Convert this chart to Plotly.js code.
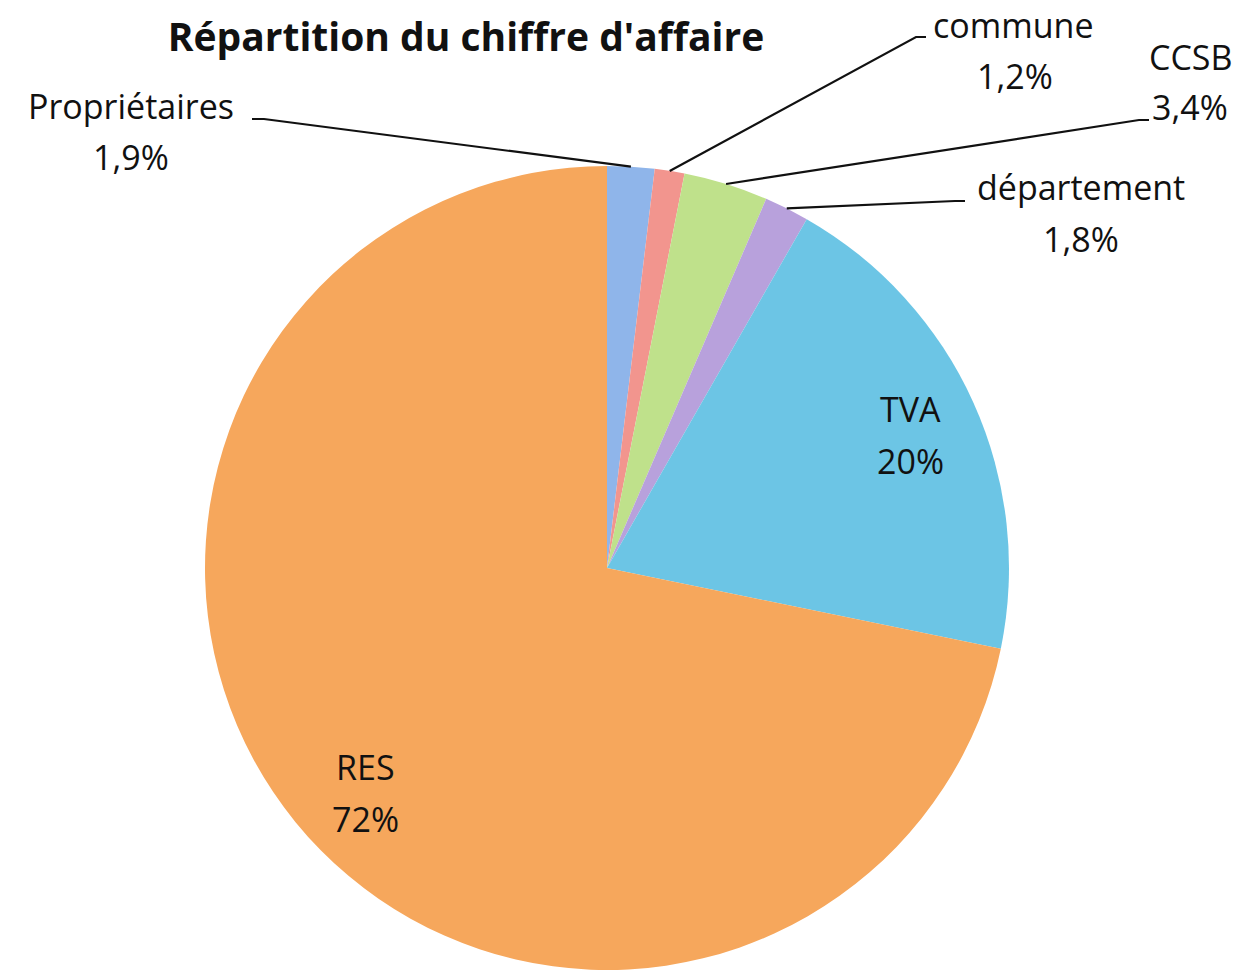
<!DOCTYPE html>
<html>
<head>
<meta charset="utf-8">
<script src="https://cdn.plot.ly/plotly-3.0.1.min.js"></script>
<style>html,body{margin:0;padding:0;background:#fff;}#chart{width:1245px;height:974px;}</style>
</head>
<body>
<div id="chart"></div>
<script>
// ---- data ----
const labels = ['Propriétaires', 'commune', 'CCSB', 'département', 'TVA', 'RES'];
const values = [1.9, 1.2, 3.4, 1.8, 20, 72];
const colors = ['#8fb5ea', '#f2958e', '#bfe18b', '#b8a1dc', '#6cc5e5', '#f6a75c'];

// ---- layout constants ----
const W = 1245, H = 974;
const M = {l: 205, r: 236, t: 166, b: 4};
const PW = W - M.l - M.r, PH = H - M.t - M.b;
const FONT = '"Open Sans", sans-serif';
// label placement (pixels): name centre, percent centre, leader line anchor points
const labelLayout = [
  {name: [131, 106], pct: [131, 157], line: [[252, 119], [264, 119]]},
  {name: [1013, 25], pct: [1015, 76], line: [[926, 37], [916, 37]]},
  {name: [1190, 57], pct: [1190, 107], line: [[1149, 120], [1139, 120]]},
  {name: [1081, 187], pct: [1081, 239], line: [[965, 201], [955, 201]]},
  {name: [910, 409], pct: [910, 461], line: null},
  {name: [365, 767], pct: [365, 819], line: null}
];

function px2paper(p) { return [(p[0] - M.l) / PW, (H - M.b - p[1]) / PH]; }
function fmtPct(v) { return (Number.isInteger(v) ? String(v) : String(v).replace('.', ',')) + '%'; }

const total = values.reduce((a, b) => a + b, 0);
const cx = M.l + PW / 2, cy = M.t + PH / 2, R = Math.min(PW, PH) / 2;

const annotations = [];
const shapes = [];
let cum = 0;
values.forEach((v, i) => {
  const mid = (cum + v / 2) / total * 2 * Math.PI;
  cum += v;
  const L = labelLayout[i];
  const n = px2paper(L.name), p = px2paper(L.pct);
  annotations.push({xref: 'paper', yref: 'paper', x: n[0], y: n[1], xanchor: 'center', yanchor: 'middle',
    text: labels[i], showarrow: false, font: {family: FONT, size: 34, color: '#111'}});
  annotations.push({xref: 'paper', yref: 'paper', x: p[0], y: p[1], xanchor: 'center', yanchor: 'middle',
    text: fmtPct(v), showarrow: false, font: {family: FONT, size: 34, color: '#111'}});
  if (L.line) {
    const edge = [cx + R * Math.sin(mid), cy - R * Math.cos(mid)];
    const pts = [L.line[0], L.line[1], edge].map(px2paper);
    shapes.push({type: 'path', xref: 'paper', yref: 'paper',
      path: 'M ' + pts.map(q => q[0] + ',' + q[1]).join(' L '),
      line: {color: '#111', width: 2.2}});
  }
});

const trace = {
  type: 'pie',
  labels: labels,
  values: values,
  sort: false,
  direction: 'clockwise',
  rotation: 0,
  textinfo: 'none',
  hoverinfo: 'label+percent',
  marker: {colors: colors, line: {width: 0}},
  showlegend: false
};

const layout = {
  width: W, height: H,
  margin: M,
  paper_bgcolor: '#ffffff',
  plot_bgcolor: '#ffffff',
  title: {text: "<b>Répartition du chiffre d'affaire</b>", x: 466 / W, xanchor: 'center', y: 1 - 37 / H, yanchor: 'middle',
    font: {family: FONT, size: 39, color: '#111'}},
  annotations: annotations,
  shapes: shapes
};

Plotly.newPlot('chart', [trace], layout, {displayModeBar: false, staticPlot: true});
</script>
</body>
</html>
